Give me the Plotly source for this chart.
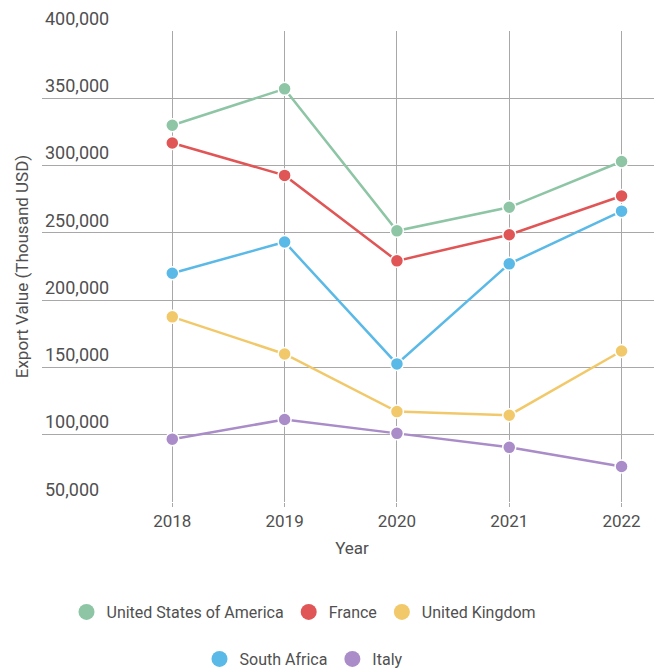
import plotly.graph_objects as go

years = [2018, 2019, 2020, 2021, 2022]
usa = [330000, 357000, 251500, 269000, 303000]
france = [316800, 292700, 229200, 248600, 277400]
uk = [187600, 160000, 117200, 114500, 162200]
south_africa = [220000, 243200, 152600, 227000, 266100]
italy = [96700, 111300, 101000, 90600, 76400]

series = [
    ("United States of America", usa, "#8dc5a5", "legend"),
    ("France", france, "#e05555", "legend"),
    ("United Kingdom", uk, "#f2c96a", "legend"),
    ("South Africa", south_africa, "#5ab9e6", "legend2"),
    ("Italy", italy, "#a98cc8", "legend2"),
]

y_ticks = [50000, 100000, 150000, 200000, 250000, 300000, 350000, 400000]

# page has an 8px default body margin, so the figure is drawn 8px smaller
W, H = 654, 663

fig = go.Figure()
for name, vals, color, lg in series:
    fig.add_trace(go.Scatter(
        x=years, y=vals, name=name, mode="lines+markers",
        line=dict(color=color, width=2.5),
        marker=dict(color=color, size=13, line=dict(color="white", width=1.5)),
        showlegend=False, legendgroup=name,
    ))
for name, vals, color, lg in series:
    fig.add_trace(go.Scatter(
        x=[None], y=[None], name=name, mode="markers",
        marker=dict(color=color, size=18),
        legend=lg, legendgroup=name, showlegend=True,
    ))

font_color = "#505050"
legend_common = dict(
    orientation="h", xref="container", yref="container",
    xanchor="center", yanchor="middle",
    font=dict(family="Roboto", size=16, color=font_color),
    itemsizing="trace", bgcolor="rgba(0,0,0,0)",
)

grid = "#a8a8a8"
fig.update_layout(
    width=W, height=H,
    margin=dict(l=34, r=0, t=20, b=169),
    plot_bgcolor="white", paper_bgcolor="white",
    font=dict(family="Roboto", color=font_color),
    xaxis=dict(
        range=[2016.84, 2022.36], tickvals=years, ticktext=[str(y) for y in years],
        showgrid=True, gridcolor=grid, gridwidth=1, zeroline=False,
        ticks="outside", ticklen=4, tickcolor=grid,
        tickfont=dict(family="Roboto", size=17, color=font_color),
        title=dict(text="Year", font=dict(family="Roboto", size=17, color=font_color), standoff=11),
        showline=False,
    ),
    yaxis=dict(
        range=[50000, 400000], tickvals=y_ticks,
        ticktext=[f"{v:,}" for v in y_ticks],
        ticklabelposition="inside top", ticklabeloverflow="allow",
        showgrid=True, gridcolor=grid, gridwidth=1, zeroline=False,
        tickfont=dict(family="Roboto", size=18, color=font_color),
        title=dict(text="Export Value (Thousand USD)", font=dict(family="Roboto", size=17, color=font_color), standoff=12),
        showline=False,
    ),
    legend=dict(x=(304 - 8) / W, y=(H - (612 - 8)) / H, **legend_common),
    legend2=dict(x=(304 - 8) / W, y=(H - (659 - 8)) / H, **legend_common),
)

fig.write_html("out.html")
